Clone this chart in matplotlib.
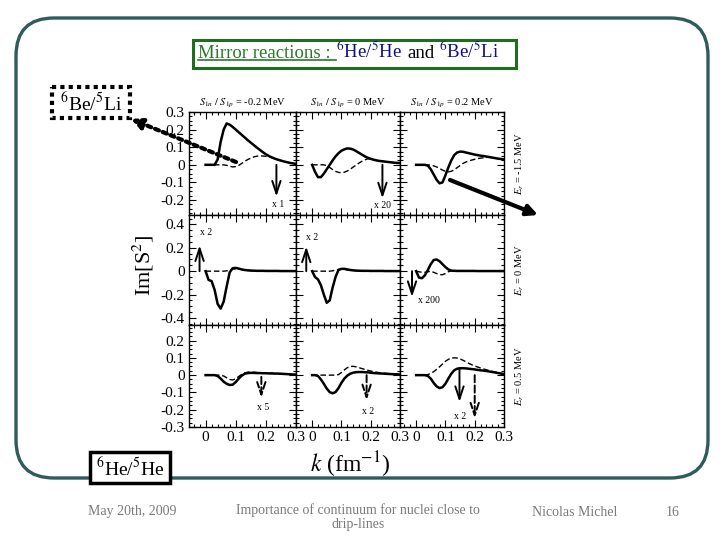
import matplotlib
matplotlib.use("Agg")
import matplotlib.pyplot as plt
from matplotlib.patches import FancyBboxPatch, Rectangle
from matplotlib.ticker import MultipleLocator, FixedLocator, FuncFormatter

plt.rcParams['font.family'] = ['Liberation Serif', 'DejaVu Serif']
plt.rcParams['mathtext.fontset'] = 'stix'
plt.rcParams['axes.unicode_minus'] = False

# momentum grid (fm^-1)
k = [0.00, 0.01, 0.02, 0.03, 0.04, 0.05, 0.06, 0.07, 0.08, 0.09, 0.10,
     0.11, 0.12, 0.13, 0.14, 0.15, 0.16, 0.17, 0.18, 0.19, 0.20,
     0.21, 0.22, 0.23, 0.24, 0.25, 0.26, 0.27, 0.28, 0.29, 0.30]

s_values = ["-0.2", "0", "0.2"]
er_values = ["-1.5", "0", "0.5"]

# row Er = -1.5 MeV
top_left_solid = [0, 0, 0, 0, 0.03, 0.13, 0.20, 0.235, 0.228, 0.215, 0.20,
                  0.185, 0.17, 0.155, 0.14, 0.126, 0.112, 0.098, 0.085, 0.072, 0.06,
                  0.05, 0.042, 0.035, 0.029, 0.024, 0.019, 0.015, 0.011, 0.008, 0.005]
top_left_dashed = [0, 0, 0, 0, 0, 0, 0, -0.003, -0.008, -0.012, -0.01,
                   -0.003, 0.008, 0.02, 0.03, 0.038, 0.045, 0.049, 0.051, 0.05, 0.048,
                   0.045, 0.041, 0.035, 0.029, 0.024, 0.019, 0.015, 0.011, 0.008, 0.005]
top_mid_solid = [0, -0.04, -0.07, -0.07, -0.05, -0.025, 0.0, 0.025, 0.048, 0.066, 0.08,
                 0.088, 0.093, 0.092, 0.087, 0.078, 0.068, 0.058, 0.048, 0.04, 0.034,
                 0.029, 0.025, 0.022, 0.02, 0.018, 0.016, 0.014, 0.012, 0.011, 0.01]
top_mid_dashed = [0, 0, 0, 0, 0, -0.005, -0.015, -0.027, -0.037, -0.043, -0.045,
                  -0.042, -0.035, -0.025, -0.013, -0.002, 0.01, 0.02, 0.028, 0.034, 0.034,
                  0.029, 0.025, 0.022, 0.02, 0.018, 0.016, 0.014, 0.012, 0.011, 0.01]
top_right_solid = [0, 0, 0, 0, -0.005, -0.025, -0.055, -0.085, -0.105, -0.1, -0.06,
                   -0.015, 0.025, 0.055, 0.07, 0.075, 0.074, 0.07, 0.066, 0.062, 0.058,
                   0.055, 0.052, 0.05, 0.047, 0.044, 0.041, 0.038, 0.035, 0.033, 0.03]
top_right_dashed = [0, 0, 0, 0, 0, -0.002, -0.006, -0.012, -0.02, -0.03, -0.037,
                    -0.04, -0.037, -0.028, -0.016, -0.004, 0.008, 0.016, 0.022, 0.027, 0.031,
                    0.035, 0.038, 0.04, 0.042, 0.043, 0.041, 0.038, 0.035, 0.033, 0.03]

# row Er = 0 MeV
mid_left_solid = [0, -0.075, -0.085, -0.16, -0.28, -0.32, -0.26, -0.13, -0.01, 0.025, 0.028,
                  0.022, 0.015, 0.01, 0.007, 0.005, 0.004, 0.003, 0.003, 0.003, 0.002,
                  0.002, 0.002, 0.002, 0.002, 0.001, 0.001, 0.001, 0.001, 0.001, 0.001]
mid_left_dashed = [0, 0, 0, 0, 0, 0, 0, 0.003, 0.01, 0.018, 0.02,
                   0.018, 0.014, 0.01, 0.007, 0.005, 0.004, 0.003, 0.003, 0.003, 0.002,
                   0.002, 0.002, 0.002, 0.002, 0.001, 0.001, 0.001, 0.001, 0.001, 0.001]
mid_mid_solid = [0, -0.05, -0.07, -0.12, -0.2, -0.27, -0.25, -0.14, -0.05, 0.01, 0.02,
                 0.02, 0.015, 0.01, 0.007, 0.005, 0.004, 0.003, 0.003, 0.003, 0.002,
                 0.002, 0.002, 0.002, 0.002, 0.001, 0.001, 0.001, 0.001, 0.001, 0.001]
mid_mid_dashed = [0, 0, 0, 0, 0, 0, 0, 0.003, 0.01, 0.015, 0.017,
                  0.015, 0.012, 0.008, 0.006, 0.004, 0.004, 0.003, 0.003, 0.003, 0.002,
                  0.002, 0.002, 0.002, 0.002, 0.001, 0.001, 0.001, 0.001, 0.001, 0.001]
mid_right_solid = [0, -0.055, -0.06, -0.035, 0.01, 0.06, 0.095, 0.1, 0.085, 0.06, 0.035,
                   0.015, 0.005, 0.003, 0.002, 0.002, 0.002, 0.002, 0.002, 0.002, 0.002,
                   0.001, 0.001, 0.001, 0.001, 0.001, 0.001, 0.001, 0.001, 0.001, 0.001]
mid_right_dashed = [0, -0.005, -0.01, -0.01, -0.005, 0, -0.01, -0.02, -0.03, -0.03, -0.02,
                    -0.005, 0.003, 0.003, 0.002, 0.002, 0.002, 0.002, 0.002, 0.002, 0.002,
                    0.001, 0.001, 0.001, 0.001, 0.001, 0.001, 0.001, 0.001, 0.001, 0.001]

# row Er = 0.5 MeV
bot_left_solid = [0, 0, 0, 0, -0.005, -0.02, -0.038, -0.05, -0.057, -0.055, -0.04,
                  -0.02, -0.003, 0.008, 0.012, 0.013, 0.013, 0.012, 0.012, 0.011, 0.011,
                  0.01, 0.01, 0.009, 0.009, 0.008, 0.007, 0.006, 0.005, 0.004, 0.003]
bot_left_dashed = [0, 0, 0, 0, 0, 0, -0.005, -0.015, -0.025, -0.028, -0.02,
                   -0.008, 0.005, 0.013, 0.017, 0.018, 0.017, 0.015, 0.013, 0.012, 0.011,
                   0.01, 0.01, 0.009, 0.009, 0.008, 0.007, 0.006, 0.005, 0.004, 0.003]
bot_mid_solid = [0, 0, -0.005, -0.025, -0.05, -0.078, -0.098, -0.105, -0.098, -0.075, -0.045,
                 -0.02, -0.003, 0.008, 0.014, 0.017, 0.018, 0.018, 0.017, 0.016, 0.014,
                 0.012, 0.011, 0.01, 0.009, 0.008, 0.007, 0.006, 0.005, 0.005, 0.004]
bot_mid_dashed = [0, 0, 0, 0, 0, 0, 0, 0, 0, 0.003, 0.015,
                  0.03, 0.043, 0.05, 0.051, 0.048, 0.043, 0.038, 0.033, 0.028, 0.024,
                  0.02, 0.017, 0.014, 0.012, 0.01, 0.009, 0.008, 0.006, 0.005, 0.004]
bot_right_solid = [0, 0, 0, 0, -0.005, -0.02, -0.045, -0.065, -0.075, -0.07, -0.05,
                   -0.02, 0.008, 0.028, 0.037, 0.04, 0.04, 0.039, 0.037, 0.035, 0.033,
                   0.03, 0.028, 0.026, 0.024, 0.021, 0.018, 0.015, 0.012, 0.009, 0.006]
bot_right_dashed = [0, 0, 0, 0, 0.003, 0.01, 0.02, 0.033, 0.048, 0.064, 0.08,
                    0.091, 0.098, 0.1, 0.099, 0.094, 0.086, 0.077, 0.068, 0.06, 0.053,
                    0.047, 0.041, 0.036, 0.031, 0.026, 0.022, 0.018, 0.014, 0.01, 0.007]

solid = [[top_left_solid, top_mid_solid, top_right_solid],
         [mid_left_solid, mid_mid_solid, mid_right_solid],
         [bot_left_solid, bot_mid_solid, bot_right_solid]]
dashed = [[top_left_dashed, top_mid_dashed, top_right_dashed],
          [mid_left_dashed, mid_mid_dashed, mid_right_dashed],
          [bot_left_dashed, bot_mid_dashed, bot_right_dashed]]

# scale-factor arrows: row, col, k, y start, y end, line style
scale_arrows = [(0, 0, 0.235, 0.0, -0.18, '-'),
                (0, 1, 0.24, 0.0, -0.19, '-'),
                (1, 0, -0.02, 0.0, 0.22, '-'),
                (1, 1, -0.02, 0.0, 0.21, '-'),
                (1, 2, -0.014, 0.0, -0.22, '-'),
                (2, 0, 0.185, -0.01, -0.13, '--'),
                (2, 1, 0.186, 0.0, -0.145, '--'),
                (2, 2, 0.148, 0.04, -0.155, '-'),
                (2, 2, 0.2, 0.0, -0.25, '--')]
scale_texts = [(0, 0, 0.24, -0.228, 'x 1'),
               (0, 1, 0.24, -0.23, 'x 20'),
               (1, 0, 0.0, 0.33, 'x 2'),
               (1, 1, 0.0, 0.285, 'x 2'),
               (1, 2, 0.045, -0.25, 'x 200'),
               (2, 0, 0.19, -0.19, 'x 5'),
               (2, 1, 0.19, -0.21, 'x 2'),
               (2, 2, 0.15, -0.24, 'x 2')]

fig = plt.figure(figsize=(7.2, 5.4), dpi=100)
W, H = 720.0, 540.0

col_px = [189, 296, 400, 504]
row_px = [112, 215, 325, 427]
row_ylim = [(-0.285, 0.3), (-0.46, 0.48), (-0.3, 0.29)]
row_yticks = [[0.3, 0.2, 0.1, 0, -0.1, -0.2], [0.4, 0.2, 0, -0.2, -0.4],
              [0.2, 0.1, 0, -0.1, -0.2, -0.3]]
row_minor = [0.025, 0.05, 0.025]

fmt = FuncFormatter(lambda v, p: "%g" % round(v, 3))
axes = [[None] * 3 for _ in range(3)]
for r in range(3):
    for c in range(3):
        x0, x1 = col_px[c], col_px[c + 1]
        y0, y1 = row_px[r], row_px[r + 1]
        ax = fig.add_axes([x0 / W, 1 - y1 / H, (x1 - x0) / W, (y1 - y0) / H])
        axes[r][c] = ax
        ax.plot(k, solid[r][c], color='black', lw=1.8)
        ax.plot(k, dashed[r][c], color='black', lw=1.0, dashes=(4, 2))
        ax.set_xlim(-0.055, 0.3)
        ax.set_ylim(*row_ylim[r])
        ax.xaxis.set_major_locator(FixedLocator([0, 0.1, 0.2, 0.3]))
        ax.xaxis.set_minor_locator(MultipleLocator(0.02))
        ax.yaxis.set_major_locator(FixedLocator(row_yticks[r]))
        ax.yaxis.set_minor_locator(MultipleLocator(row_minor[r]))
        ax.xaxis.set_major_formatter(fmt)
        ax.yaxis.set_major_formatter(fmt)
        ax.tick_params(which='both', direction='in', top=True, right=True,
                       labelsize=11, width=0.8)
        ax.tick_params(which='major', length=5, pad=3)
        ax.tick_params(which='minor', length=2.5)
        for sp in ax.spines.values():
            sp.set_linewidth(1.0)
        if c > 0:
            ax.tick_params(labelleft=False)
        if r < 2:
            ax.tick_params(labelbottom=False)
        if r == 0:
            ax.set_title(r"$S_{1n}\ /\ S_{1p}$ = " + s_values[c] + " MeV",
                         fontsize=7.5, pad=5)
        if c == 2:
            ax.text(1.15, 0.5, r"$E_r$ = " + er_values[r] + " MeV", transform=ax.transAxes,
                    rotation=90, ha='center', va='center', fontsize=7.5)

for r, c, kx, ya, yb, ls in scale_arrows:
    axes[r][c].annotate('', xy=(kx, yb), xytext=(kx, ya),
                        arrowprops=dict(arrowstyle='->,head_length=0.9,head_width=0.3',
                                        lw=1.4, ls=ls, color='black', mutation_scale=10,
                                        shrinkA=0, shrinkB=0))
for r, c, kx, y, s in scale_texts:
    axes[r][c].text(kx, y, s, ha='center', va='center', fontsize=7)

# slide decorations, in image pixel coordinates
ov = fig.add_axes([0, 0, 1, 1])
ov.set_xlim(0, W)
ov.set_ylim(H, 0)
ov.set_axis_off()
ov.set_zorder(10)

ov.add_patch(FancyBboxPatch((16, 18), 692, 460, boxstyle='round,pad=0,rounding_size=38',
                            fc='none', ec='#2f5b5b', lw=2.4))

ov.add_patch(Rectangle((193, 40), 323, 28, fc='white', ec='#1f6e1f', lw=2.2))
green = '#2a7a2a'
navy = '#101080'
t1 = ov.text(198, 62, "Mirror reactions :", color=green, fontsize=13.5, va='bottom')
t2 = ov.annotate(r"$^{6}$He/$^{5}$He", xy=(1, 0), xycoords=t1, xytext=(4, 0),
                 textcoords='offset points', color=navy, fontsize=13.5, va='bottom')
t3 = ov.annotate("and", xy=(1, 0), xycoords=t2, xytext=(3.5, 0),
                 textcoords='offset points', color='black', fontsize=13.5, va='bottom')
t4 = ov.annotate(r"$^{6}$Be/$^{5}$Li", xy=(1, 0), xycoords=t3, xytext=(3.5, 0),
                 textcoords='offset points', color=navy, fontsize=13.5, va='bottom')
fig.canvas.draw()
bb = t1.get_window_extent()
inv = ov.transData.inverted()
(ux0, uy0), (ux1, uy1) = inv.transform([[bb.x0, bb.y0], [bb.x1, bb.y0]])
ov.plot([ux0, ux1 + 5], [uy0 - 2, uy0 - 2], color=green, lw=1.2)

ov.add_patch(Rectangle((52, 87), 78, 31, fc='white', ec='black', lw=3, ls=(0, (1, 1))))
ov.text(91, 103, r"$^{6}$Be/$^{5}$Li", ha='center', va='center', fontsize=14)
ov.add_patch(Rectangle((90, 452), 80, 31, fc='white', ec='black', lw=2.5))
ov.text(130, 468, r"$^{6}$He/$^{5}$He", ha='center', va='center', fontsize=14)

ov.annotate('', xy=(131, 119), xytext=(236, 162),
            arrowprops=dict(arrowstyle='-|>', lw=3, ls=(0, (1, 1)), color='black',
                            mutation_scale=16, shrinkA=0, shrinkB=0))
ov.annotate('', xy=(538, 215), xytext=(450, 180),
            arrowprops=dict(arrowstyle='-|>', lw=3, color='black',
                            mutation_scale=16, shrinkA=0, shrinkB=0))

ov.text(143, 265, r"Im[S$^2$]", rotation=90, ha='center', va='center', fontsize=16)
ov.text(350, 465, r"$k$ (fm$^{-1}$)", ha='center', va='center', fontsize=17)

grey = '#7a7a7a'
ov.text(132, 512, "May 20th, 2009", ha='center', va='center', fontsize=10, color=grey)
ov.text(358, 517, "Importance of continuum for nuclei close to\ndrip-lines", ha='center',
        va='center', fontsize=10, color=grey, linespacing=1.1)
ov.text(575, 512, "Nicolas Michel", ha='center', va='center', fontsize=10, color=grey)
ov.text(673, 512, "16", ha='center', va='center', fontsize=10, color=grey)

fig.savefig("out.png", dpi=100)
